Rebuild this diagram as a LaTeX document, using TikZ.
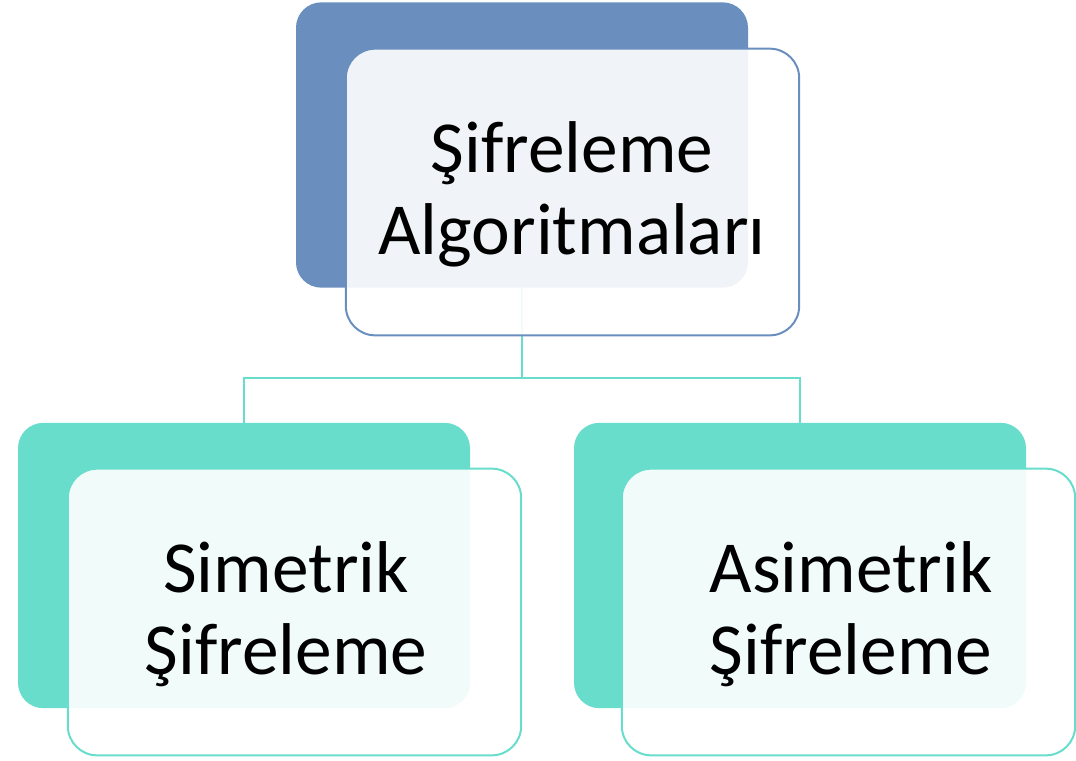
\documentclass[tikz,border=0pt]{standalone}
\usepackage{fontspec}
\setmainfont{Carlito}
\definecolor{bluebox}{HTML}{6A8FBF}
\definecolor{tealbox}{HTML}{68DDCC}
\begin{document}
\begin{tikzpicture}[x=0.75pt,y=-0.75pt,
  backbox/.style={rectangle, rounded corners=19pt, inner sep=0pt, minimum width=339pt, minimum height=214pt},
  frontbox/.style={rectangle, rounded corners=22pt, inner sep=0pt, minimum width=340pt, minimum height=215pt, fill=white, fill opacity=0.9, line width=1.5pt},
  lbl/.style={align=center, font=\fontsize{55pt}{61.5pt}\selectfont, text=black},
  conn/.style={draw=tealbox, line width=1.5pt}]
\useasboundingbox (0,0) rectangle (1076,761);
% back boxes
\node[backbox, fill=bluebox] (tb) at (522,145) {};
\node[backbox, fill=tealbox] (lb) at (244,565.5) {};
\node[backbox, fill=tealbox] (rb) at (800,565.5) {};
% connectors
\coordinate (j) at (522,378);
\draw[conn] (tb.south) -- (j) -| (lb.north);
\draw[conn] (j) -| (rb.north);
% front boxes
\node[frontbox, draw=bluebox] (tf) at (572.5,192) {};
\node[frontbox, draw=tealbox] (lf) at (294.5,612) {};
\node[frontbox, draw=tealbox] (rf) at (848.5,612) {};
% labels
\node[lbl] (tt) at (572,194) {Şifreleme\\Algoritmaları};
\node[lbl] (lt) at (286,614) {Simetrik\\Şifreleme};
\node[lbl] (rt) at (851,614) {Asimetrik\\Şifreleme};
\end{tikzpicture}
\end{document}
